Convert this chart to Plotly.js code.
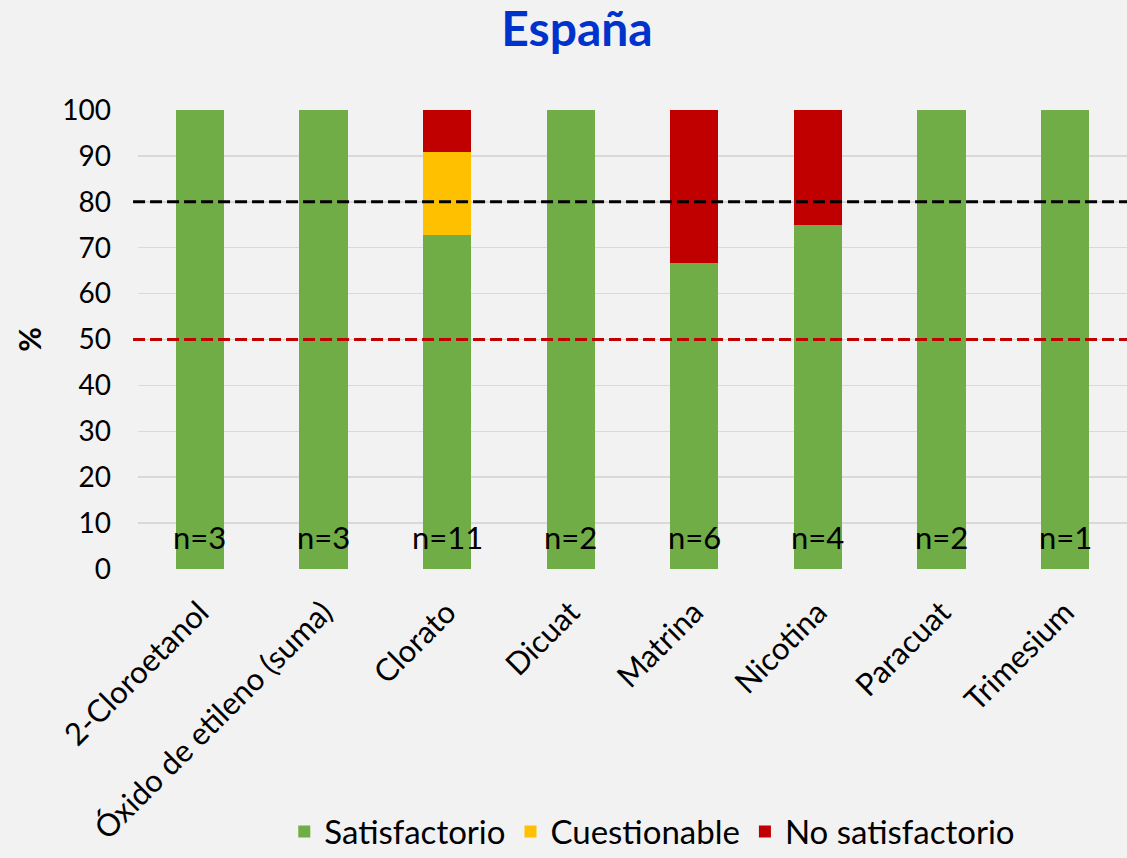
<!DOCTYPE html>
<html>
<head>
<meta charset="utf-8">
<script src="https://cdn.plot.ly/plotly-3.0.1.min.js"></script>
<style>
html,body{margin:0;padding:0;background:#F2F2F2;}
#chart{width:1127px;height:858px;}
</style>
</head>
<body>
<div id="chart"></div>
<script>
const categories = ["2-Cloroetanol", "Óxido de etileno (suma)", "Clorato", "Dicuat", "Matrina", "Nicotina", "Paracuat", "Trimesium"];
const satisfactorio = [100, 100, 72.7, 100, 66.7, 75, 100, 100];
const cuestionable = [0, 0, 18.2, 0, 0, 0, 0, 0];
const noSatisfactorio = [0, 0, 9.1, 0, 33.3, 25, 0, 0];
const nLabels = ["n=3", "n=3", "n=11", "n=2", "n=6", "n=4", "n=2", "n=1"];
const yTicks = [0, 10, 20, 30, 40, 50, 60, 70, 80, 90, 100];
const thresholdHigh = 80;
const thresholdLow = 50;

const FONT = "Lato, 'Open Sans', sans-serif";

const traces = [
  {type: "bar", name: "Satisfactorio", x: categories, y: satisfactorio, marker: {color: "#70AD47", line: {width: 0}}, width: 0.39, hoverinfo: "y"},
  {type: "bar", name: "Cuestionable", x: categories, y: cuestionable, marker: {color: "#FFC000", line: {width: 0}}, width: 0.39, hoverinfo: "y"},
  {type: "bar", name: "No satisfactorio", x: categories, y: noSatisfactorio, marker: {color: "#C00000", line: {width: 0}}, width: 0.39, hoverinfo: "y"}
];

const annotations = categories.map((c, i) => ({
  x: c, y: 7, xref: "x", yref: "y", text: nLabels[i], showarrow: false,
  font: {family: FONT, size: 31, color: "#000000"}, yanchor: "middle", xanchor: "center"
}));
annotations.push({
  x: -0.111, y: 0.5, xref: "paper", yref: "paper", text: "<b>%</b>", showarrow: false,
  textangle: -90, font: {family: FONT, size: 30, color: "#000000"}, xanchor: "center", yanchor: "middle"
});

const layout = {
  width: 1127, height: 858,
  paper_bgcolor: "#F2F2F2", plot_bgcolor: "#F2F2F2",
  margin: {l: 138, r: 0, t: 109.5, b: 288.5, pad: 0, autoexpand: false},
  barmode: "stack",
  title: {text: "<b>España</b>", x: 0.512, xanchor: "center", y: 0.966, yanchor: "middle",
          font: {family: FONT, size: 48, color: "#0033CC"}},
  xaxis: {type: "category", tickangle: -45, tickfont: {family: FONT, size: 31, color: "#000000"},
          showgrid: false, zeroline: false, showline: false, ticks: "", automargin: false,
          ticklabelstandoff: 18},
  yaxis: {range: [0, 100], tickvals: yTicks, ticktext: yTicks.map(String),
          tickfont: {family: FONT, size: 28, color: "#000000"}, showgrid: true,
          gridcolor: "#D9D9D9", gridwidth: 1.5, zeroline: false, showline: false, ticks: "",
          ticklabelstandoff: 26, automargin: false, fixedrange: true},
  showlegend: true,
  legend: {orientation: "h", x: 0.52, xanchor: "center", y: -0.572, yanchor: "middle",
           font: {family: FONT, size: 33, color: "#000000"}, bgcolor: "rgba(0,0,0,0)", traceorder: "normal"},
  shapes: [
    {type: "line", xref: "paper", yref: "y", x0: -0.005, x1: 1, y0: thresholdHigh, y1: thresholdHigh,
     line: {color: "#000000", width: 3, dash: "12px,5px"}, layer: "above"},
    {type: "line", xref: "paper", yref: "y", x0: -0.005, x1: 1, y0: thresholdLow, y1: thresholdLow,
     line: {color: "#C00000", width: 3, dash: "12px,5px"}, layer: "above"}
  ],
  annotations: annotations
};

Plotly.newPlot("chart", traces, layout, {displayModeBar: false, staticPlot: true});
</script>
</body>
</html>
